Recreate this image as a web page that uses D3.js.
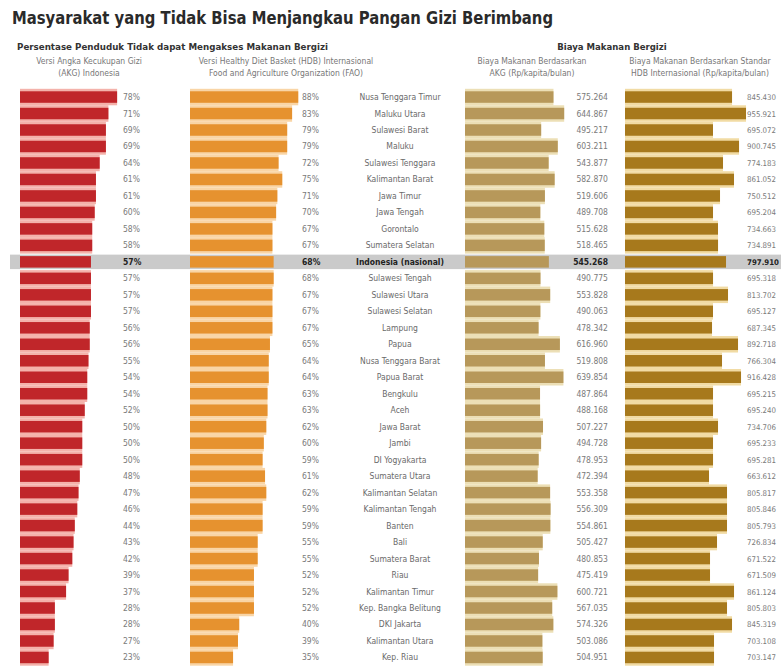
<!DOCTYPE html>
<html><head><meta charset="utf-8">
<script src="https://cdn.jsdelivr.net/npm/d3@7"></script>
<style>
html,body{margin:0;padding:0;background:#fff;}
svg{display:block;font-family:"Liberation Sans Narrow","DejaVu Sans Condensed",Roboto,"Liberation Sans",sans-serif;}
</style></head>
<body>
<svg id="c" width="781" height="671"></svg>
<script>
const provinces = ["Nusa Tenggara Timur","Maluku Utara","Sulawesi Barat","Maluku","Sulawesi Tenggara","Kalimantan Barat","Jawa Timur","Jawa Tengah","Gorontalo","Sumatera Selatan","Indonesia (nasional)","Sulawesi Tengah","Sulawesi Utara","Sulawesi Selatan","Lampung","Papua","Nusa Tenggara Barat","Papua Barat","Bengkulu","Aceh","Jawa Barat","Jambi","DI Yogyakarta","Sumatera Utara","Kalimantan Selatan","Kalimantan Tengah","Banten","Bali","Sumatera Barat","Riau","Kalimantan Timur","Kep. Bangka Belitung","DKI Jakarta","Kalimantan Utara","Kep. Riau"];
const akgPct = [78,71,69,69,64,61,61,60,58,58,57,57,57,57,56,56,55,54,54,52,50,50,50,48,47,46,44,43,42,39,37,28,28,27,23];
const hdbPct = [88,83,79,79,72,75,71,70,67,67,68,68,67,67,67,65,64,64,63,63,62,60,59,61,62,59,59,55,55,52,52,52,40,39,35];
const akgCost = [575264,644867,495217,603211,543877,582870,519606,489708,515628,518465,545268,490775,553828,490063,478342,616960,519808,639854,487864,488168,507227,494728,478953,472394,553358,556309,554861,505427,480853,475419,600721,567035,574326,503086,504951];
const hdbCost = [845430,955921,695072,900745,774183,861052,750512,695204,734663,734891,797910,695318,813702,695127,687345,892718,766304,916428,695215,695240,734706,695233,695281,663612,805817,805846,805793,726834,671522,671509,861124,805803,845319,703108,703147];
const highlight = "Indonesia (nasional)";

const title = "Masyarakat yang Tidak Bisa Menjangkau Pangan Gizi Berimbang";
const groupLeft = "Persentase Penduduk Tidak dapat Mengakses Makanan Bergizi";
const groupRight = "Biaya Makanan Bergizi";
const colHeads = [
  ["Versi Angka Kecukupan Gizi","(AKG) Indonesia"],
  ["Versi Healthy Diet Basket (HDB) Internasional","Food and Agriculture Organization (FAO)"],
  ["Biaya Makanan Berdasarkan","AKG (Rp/kapita/bulan)"],
  ["Biaya Makanan Berdasarkan Standar","HDB Internasional (Rp/kapita/bulan)"]
];

const svg = d3.select("#c");
const W = 781;
const id = d3.formatLocale({decimal:",",thousands:".",grouping:[3],currency:["Rp",""]});
const fmtRp = id.format(",d");
const fmtPct = v => v + "%";

const y = d3.scaleBand().domain(provinces).range([88.8, 665.7]).paddingInner(0);
const barH = 11.5;

svg.append("rect").attr("x",10).attr("width",W-10)
  .attr("y", y(highlight)+1).attr("height", y.bandwidth()-2).attr("fill","#cacaca");

svg.append("text").attr("x",12).attr("y",24).attr("font-size",18).attr("font-weight","bold")
  .attr("fill","#2a2a2a").attr("textLength",541).attr("lengthAdjust","spacingAndGlyphs").text(title);
svg.append("text").attr("x",17).attr("y",50).attr("font-size",9.5).attr("font-weight","bold")
  .attr("fill","#333").attr("textLength",311).attr("lengthAdjust","spacingAndGlyphs").text(groupLeft);
svg.append("text").attr("x",612).attr("y",50).attr("font-size",9.5).attr("font-weight","bold")
  .attr("fill","#333").attr("text-anchor","middle").text(groupRight);

const headX = [89, 286, 532, 700];
colHeads.forEach((lines,i)=>{
  lines.forEach((l,j)=>{
    svg.append("text").attr("x",headX[i]).attr("y",64+j*12).attr("font-size",8.5)
      .attr("fill","#777").attr("text-anchor","middle").text(l);
  });
});

const cols = [
  {vals: akgPct, x0: 20, scale: d3.scaleLinear().domain([0,100]).range([0,124.5]), fill:"#c0262a", band:"#f3aaa2", lx:123, fmt:fmtPct, anchor:"start", fs:8.5},
  {vals: hdbPct, x0: 190, scale: d3.scaleLinear().domain([0,100]).range([0,123]), fill:"#e6922f", band:"#f8d09c", lx:302, fmt:fmtPct, anchor:"start", fs:8.5},
  {vals: akgCost, x0: 465, scale: d3.scaleLinear().domain([0,1000000]).range([0,153.8]), fill:"#b7985a", band:"#eadcae", lx:608, fmt:fmtRp, anchor:"end", fs:8.5},
  {vals: hdbCost, x0: 625, scale: d3.scaleLinear().domain([0,1000000]).range([0,126.6]), fill:"#a7791c", band:"#efd79a", lx:747, fmt:fmtRp, anchor:"start", fs:7.8}
];

cols.forEach(c=>{
  const g = svg.append("g");
  const data = provinces.map((p,i)=>({p, v:c.vals[i]}));
  g.selectAll("rect.band").data(data).join("rect").attr("class","band")
    .attr("x",c.x0).attr("y",d=>y(d.p)).attr("height",y.bandwidth())
    .attr("width",d=>c.scale(d.v)).attr("fill",c.band).attr("opacity",d=>d.p===highlight?0:0.9);
  g.selectAll("rect.bar").data(data).join("rect").attr("class","bar")
    .attr("x",c.x0).attr("y",d=>y(d.p)+(y.bandwidth()-barH)/2).attr("height",barH)
    .attr("width",d=>c.scale(d.v)).attr("fill",c.fill);
  g.selectAll("text").data(data).join("text")
    .attr("x",c.lx).attr("y",d=>y(d.p)+y.bandwidth()/2+3)
    .attr("font-size",c.fs).attr("text-anchor",c.anchor)
    .attr("font-weight",d=>d.p===highlight?"bold":"normal")
    .attr("fill",d=>d.p===highlight?"#222":"#7a7a7a")
    .text(d=>c.fmt(d.v));
});

svg.append("g").selectAll("text").data(provinces).join("text")
  .attr("x",400).attr("y",d=>y(d)+y.bandwidth()/2+3)
  .attr("font-size",8.5).attr("text-anchor","middle")
  .attr("font-weight",d=>d===highlight?"bold":"normal")
  .attr("fill",d=>d===highlight?"#222":"#6a6a6a")
  .text(d=>d);
</script>
</body></html>
